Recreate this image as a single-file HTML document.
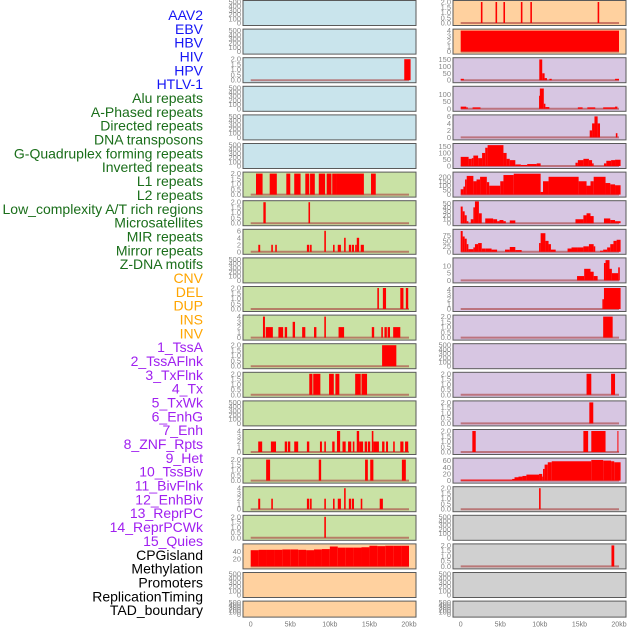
<!DOCTYPE html>
<html><head><meta charset="utf-8"><style>
html,body{margin:0;padding:0;background:#fff;}
svg{display:block;font-family:"Liberation Sans",sans-serif;}
</style></head><body>
<svg id="chart" width="630" height="630" viewBox="0 0 630 630" xmlns="http://www.w3.org/2000/svg"></svg>
<script>
// ---- Data (segments: [start kb, end kb, value]) ----
const trackLabels = ["AAV2","EBV","HBV","HIV","HPV","HTLV-1","Alu repeats","A-Phased repeats","Directed repeats","DNA transposons","G-Quadruplex forming repeats","Inverted repeats","L1 repeats","L2 repeats","Low_complexity A/T rich regions","Microsatellites","MIR repeats","Mirror repeats","Z-DNA motifs","CNV","DEL","DUP","INS","INV","1_TssA","2_TssAFlnk","3_TxFlnk","4_Tx","5_TxWk","6_EnhG","7_Enh","8_ZNF_Rpts","9_Het","10_TssBiv","11_BivFlnk","12_EnhBiv","13_ReprPC","14_ReprPCWk","15_Quies","CPGisland","Methylation","Promoters","ReplicationTiming","TAD_boundary"];
const labelGroups = ["v","v","v","v","v","v","r","r","r","r","r","r","r","r","r","r","r","r","r","s","s","s","s","s","c","c","c","c","c","c","c","c","c","c","c","c","c","c","c","o","o","o","o","o"];
const xTicks = [0,5,10,15,20];
const xTickLabels = ["0","5kb","10kb","15kb","20kb"];

const L2 = [[19.4,20.2,2]];
const L6 = [[0.67,1.5,2],[2.4,3.3,2],[4.5,5.0,2],[5.5,6.3,2],[6.9,7.4,2],[7.5,8.1,2],[8.6,9.4,2],[9.6,10.2,2],[10.3,10.9,2],[10.9,14.3,2],[15.2,15.8,2]];
const L7 = [[1.6,1.9,2],[7.3,7.5,2]];
const L8 = [[0.96,1.2,2],[2.6,2.8,2],[3.1,3.3,2],[7.1,7.4,2],[7.5,7.7,2],[9.3,9.5,6],[10.4,10.6,2],[11.0,11.4,2],[11.8,12.0,4],[12.4,12.7,2],[12.8,13.05,2],[13.2,13.4,2],[13.4,13.7,4],[13.9,14.3,2]];
const L10 = [[16.0,16.2,2],[16.7,17.1,2],[18.9,19.3,2],[19.6,19.9,2]];
const L11 = [[1.55,1.8,4],[1.9,2.8,2],[3.5,4.1,2],[4.3,4.6,2],[5.3,5.6,3],[6.5,6.9,2],[8.0,8.3,2],[9.3,9.5,4],[11.1,11.8,2],[15.3,15.6,2],[16.5,16.7,2],[16.9,17.2,2],[17.3,17.6,2],[18.0,18.9,2]];
const L12 = [[16.6,18.4,2]];
const L13 = [[7.4,7.8,2],[7.9,8.8,2],[9.9,10.5,2],[10.7,11.2,2],[13.2,13.9,2],[14.0,14.7,2]];
const L15 = [[0.95,1.45,2],[2.55,3.2,2],[4.3,4.6,2],[4.7,5.0,2],[5.5,6.0,2],[7.1,7.4,2],[8.75,9.0,2],[9.3,9.5,2],[10.3,10.6,2],[10.9,11.3,4],[11.6,12.0,2],[12.3,12.7,2],[12.9,13.1,2],[13.4,13.7,4],[13.7,14.2,2],[14.4,14.7,2],[14.8,15.1,2],[15.3,15.5,4],[15.5,16.2,2],[16.6,16.9,2],[17.1,17.35,2],[18.0,18.2,2],[18.9,19.3,2],[19.5,19.9,2]];
const L16 = [[1.95,2.45,2],[8.6,8.9,2],[14.45,14.8,2],[15.1,15.5,2],[19.1,19.6,2]];
const L17 = [[0.95,1.2,2],[2.6,2.8,2],[7.1,7.4,2],[7.5,7.7,2],[9.3,9.5,2],[10.4,10.6,2],[11.0,11.4,2],[11.8,12.0,4],[12.4,12.7,2],[12.8,13.05,2],[13.9,14.1,2],[16.3,16.7,2]];
const L18 = [[9.3,9.5,2]];
const L19 = [[0,1,44],[1,2,45],[2,3,45],[3,4,45],[4,5,46],[5,6,46],[6,7,45],[7,8,44],[8,9,46],[9,10,47],[10,11,54],[11,12,51],[12,13,51],[13,14,51],[14,15,52],[15,16,56],[16,17,55],[17,18,56],[18,19,56],[19,20,56]];

const R0 = [[2.55,2.75,2],[4.4,4.6,2],[5.4,5.6,2],[7.6,7.8,2],[8.8,9.0,2],[17.3,17.5,2]];
const R1 = [[0,20,4]];
const R2 = [[0,0.4,10],[9.93,10.3,150],[10.3,10.6,50],[10.6,10.9,15],[11.2,11.5,10],[19.5,20,10]];
const R3 = [[0,0.7,15],[0.7,0.9,10],[1.5,2.5,10],[9.9,10.0,90],[10.0,10.5,140],[10.5,10.7,35],[10.7,11.2,12],[14.8,15.4,10],[16.0,17.0,10],[18.0,19.5,10],[19.5,19.8,15]];
const R4 = [[16.3,16.6,2],[16.6,16.9,4],[16.9,17.3,6],[17.3,17.6,4],[19.6,19.8,1.2]];
const R5 = [[0,1,70],[1,1.4,55],[1.4,1.6,60],[1.6,2.2,80],[2.2,2.7,60],[2.7,3.1,100],[3.1,3.4,140],[3.4,5.4,160],[5.4,5.8,100],[5.8,6.2,55],[6.2,6.9,45],[6.9,7.6,12],[7.6,8.4,8],[8.4,9.6,15],[9.6,10.1,20],[14.5,14.8,25],[14.8,15.5,45],[15.5,16.2,55],[16.2,16.6,45],[16.6,16.8,20],[18.1,18.4,20],[18.4,19,40],[19,19.5,45],[19.5,20.2,48]];
const R6 = [[0,0.34,60],[0.34,0.55,90],[0.55,0.76,170],[0.76,1.6,210],[1.6,2.0,150],[2.0,2.45,170],[2.45,3.3,200],[3.3,3.6,140],[3.6,5.0,100],[5.0,5.4,150],[5.4,6.7,220],[6.7,10.1,235],[10.1,10.4,30],[10.4,11.1,150],[11.1,14.9,200],[14.9,15.9,150],[15.9,16.4,100],[16.4,16.8,150],[16.8,18.3,200],[18.3,18.9,130],[18.9,19.5,115],[19.5,20.2,105]];
const R7 = [[0,0.25,42],[0.25,0.5,30],[0.5,0.76,20],[0.76,0.97,5],[1.27,1.6,10],[1.6,1.8,40],[1.8,2.3,55],[2.3,2.66,25],[3.1,4.1,12],[4.1,4.6,10],[4.6,4.9,5],[4.9,5.4,8],[5.4,5.7,5],[6.2,6.9,7],[14.5,15.5,10],[15.5,15.9,20],[15.9,16.4,25],[16.4,16.8,18],[18.1,18.9,12],[18.9,19.5,8],[19.5,20.2,5]];
const R8 = [[0,0.25,95],[0.25,0.5,70],[0.5,0.76,60],[0.76,0.97,35],[0.97,1.6,12],[1.6,1.8,20],[1.8,2.2,35],[2.2,2.66,40],[2.66,3.1,15],[3.1,3.9,15],[3.9,4.6,10],[5.6,6.2,10],[6.2,6.9,22],[6.9,7.7,8],[9.9,10.1,40],[10.1,10.7,85],[10.7,11.1,50],[11.1,11.4,35],[11.4,12.0,10],[13.5,14.0,15],[14.0,14.7,20],[14.7,15.5,20],[15.5,16.2,25],[16.2,16.8,35],[16.8,17.0,25],[17.6,18.0,5],[18.0,18.5,10],[18.5,18.9,20],[18.9,19.3,35],[19.3,19.7,50],[19.7,20.2,55]];
const R9 = [[14.7,15.6,3],[15.6,16.4,8],[16.4,16.8,6],[16.8,17.3,3],[18.1,18.3,12],[18.3,18.8,14],[18.8,19.1,8],[19.1,19.9,5],[19.9,20.1,9]];
const R10 = [[17.9,18.1,2],[18.1,20.2,4.3]];
const R11 = [[18.0,19.2,2]];
const R13 = [[15.9,16.5,2],[19.0,19.5,2]];
const R14 = [[16.25,16.75,2]];
const R15 = [[1.47,1.9,2],[15.5,16.1,2],[16.5,18.3,2],[19.8,19.9,2]];
const R16 = [[0,6.5,3],[6.5,6.8,5],[6.8,7.3,10],[7.3,7.8,12],[7.8,8.3,14],[8.3,9.9,18],[9.9,10.3,20],[10.3,10.4,12],[10.4,10.6,35],[10.6,11.0,48],[11.0,11.5,55],[11.5,16.5,58],[16.5,18,62],[18,19,60],[19,19.4,58],[19.4,20.2,55]];
const R17 = [[9.9,10.1,2]];
const R19 = [[19.05,19.4,2]];

const T2 = [0,0.5,1,1.5,2];
const T500 = [0,100,200,300,400,500];
// panel config: [segments, bg, ymax, ticks]
const leftPanels = [
 [null,"b",500,T500],[null,"b",500,T500],[L2,"b",2,T2],[null,"b",500,T500],[null,"b",500,T500],[null,"b",500,T500],
 [L6,"g",2,T2],[L7,"g",2,T2],[L8,"g",6,[0,2,4,6]],[null,"g",500,T500],[L10,"g",2,T2],[L11,"g",4,[0,1,2,3,4]],
 [L12,"g",2,T2],[L13,"g",2,T2],[null,"g",500,T500],[L15,"g",4,[0,1,2,3,4]],[L16,"g",2,T2],[L17,"g",4,[0,1,2,3,4]],
 [L18,"g",2,T2],[L19,"o",57,[20,40]],[null,"o",500,T500],[null,"o",500,T500]
];
const rightPanels = [
 [R0,"o",2,T2],[R1,"o",4,[0,1,2,3,4]],[R2,"p",152,[0,50,100,150]],[R3,"p",145,[0,50,100]],[R4,"p",6,[0,2,4,6]],
 [R5,"p",161,[0,50,100,150]],[R6,"p",236,[0,50,100,150,200]],[R7,"p",53,[0,10,20,30,40,50]],[R8,"p",96,[0,25,50,75]],
 [R9,"p",14.5,[0,5,10]],[R10,"p",4.3,[0,1,2,3,4]],[R11,"p",2,T2],[null,"p",500,T500],[R13,"p",2,T2],[R14,"p",2,T2],
 [R15,"p",2,T2],[R16,"p",63,[0,20,40,60]],[R17,"x",2,T2],[null,"x",500,T500],[R19,"x",2,T2],[null,"x",500,T500],[null,"x",500,T500]
];

// ---- Rendering ----
const NS = "http://www.w3.org/2000/svg";
const svg = document.getElementById("chart");
const bgColors = {b:"#c9e4ec",g:"#c9e2a5",o:"#ffd19f",p:"#d7c6e2",x:"#d0d0d0"};
const labelColors = {v:"#1515f5",r:"#1a6e1a",s:"#ffa500",c:"#a020f0",o:"#000000"};
const colX = [243,453];
const panelW = 173;
function mk(tag, attrs){ const e=document.createElementNS(NS,tag); for(const k in attrs) e.setAttribute(k,attrs[k]); return e; }
function xScale(col, kb){ return colX[col] + 7.7 + kb * 7.915; }
function rowTop(i){ return 0.5 + i * 28.6; }
function rowH(i){ return i === 21 ? 16 : 25; }
function yScale(i, v, ymax){ const t=rowTop(i)+1.5, b=rowTop(i)+rowH(i)-2.5; return b - (v/ymax)*(b-t); }

trackLabels.forEach((name, k) => {
  const t = mk("text",{x:203, y:15 + k*13.84, "text-anchor":"end", "dominant-baseline":"central", "font-size":"14", fill:labelColors[labelGroups[k]]});
  t.textContent = name;
  
  
  svg.appendChild(t);
});

function drawPanel(col, i, cfg){
  const [segs, bg, ymax, ticks] = cfg;
  const g = mk("g",{});
  
  
  const x = colX[col], y = rowTop(i), h = rowH(i);
  g.appendChild(mk("rect",{x:x, y:y, width:panelW, height:h, fill:bgColors[bg], stroke:"#5a5a5a", "stroke-width":1}));
  ticks.forEach(tv => {
    const lbl = mk("text",{x:x-2, y:yScale(i,tv,ymax), "text-anchor":"end", "dominant-baseline":"central", "font-size":"7.5", fill:"#888"});
    lbl.textContent = ymax <= 2 ? tv.toFixed(1) : String(tv);
    
    
    g.appendChild(lbl);
  });
  if (segs) {
    const y0 = yScale(i,0,ymax);
    const base = mk("line",{x1:xScale(col,0), x2:xScale(col,20), y1:y0, y2:y0, stroke:"rgba(170,60,60,0.6)", "stroke-width":2});
    
    
    g.appendChild(base);
    segs.forEach(s => {
      const x1 = xScale(col,s[0]), x2 = xScale(col,s[1]), yt = yScale(i,s[2],ymax);
      const r = mk("rect",{x:x1, y:yt, width:Math.max(1, x2-x1), height:Math.max(0.5, y0-yt), fill:"#ff0000"});
      
      
      g.appendChild(r);
    });
  }
  svg.appendChild(g);
}
leftPanels.forEach((cfg,i) => drawPanel(0,i,cfg));
rightPanels.forEach((cfg,i) => drawPanel(1,i,cfg));

[0,1].forEach(col => {
  xTicks.forEach((tv,k) => {
    const t = mk("text",{x:xScale(col,tv), y:625, "text-anchor":"middle", "dominant-baseline":"central", "font-size":"7", fill:"#777"});
    t.textContent = xTickLabels[k];
    
    
    svg.appendChild(t);
  });
});
</script>
</body></html>
